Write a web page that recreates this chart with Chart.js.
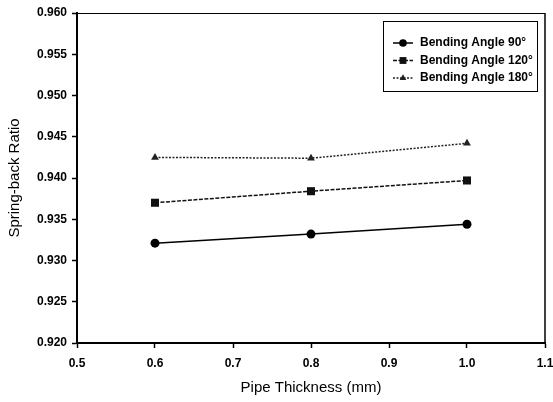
<!DOCTYPE html>
<html>
<head>
<meta charset="utf-8">
<script src="https://cdn.jsdelivr.net/npm/chart.js@4/dist/chart.umd.min.js"></script>
<style>
  html, body { margin: 0; padding: 0; background: #fff; }
  #wrap { width: 553px; height: 402px; }
</style>
</head>
<body>
<div id="wrap"><canvas id="chart" width="553" height="402"></canvas></div>
<script>
// pipe thickness (mm) and spring-back ratio per bending angle
var thickness = [0.6, 0.8, 1.0]
  , angle90   = [0.9321, 0.9332, 0.9344]
  , angle120  = [0.9370, 0.9384, 0.9397]
  , angle180  = [0.9425, 0.9424, 0.9442]
  , labels    = ["Bending Angle 90°", "Bending Angle 120°", "Bending Angle 180°"]

var FONT = "'Liberation Sans', Arial, sans-serif"

function points(ys) {
  return thickness.map(function(x, i) { return {x: x, y: ys[i]} })
}

var series =
  [ { label: labels[0], data: points(angle90),  color: "#000", dash: [],         style: "circle",   radius: 4.5 }
  , { label: labels[1], data: points(angle120), color: "#111", dash: [4, 1.5],   style: "rect",     radius: 5.7 }
  , { label: labels[2], data: points(angle180), color: "#222", dash: [2, 1.5],   style: "triangle", radius: 4.5 }
  ]

function marker(ctx, style, x, y, r, color) {
  ctx.save()
  ctx.fillStyle = color
  ctx.beginPath()
  if (style === "circle") {
    ctx.arc(x, y, r, 0, Math.PI * 2)
  } else if (style === "rect") {
    var s = r * Math.SQRT1_2
    ctx.rect(x - s, y - s, s * 2, s * 2)
  } else {
    ctx.moveTo(x, y - r)
    ctx.lineTo(x + r * 0.87, y + r * 0.5)
    ctx.lineTo(x - r * 0.87, y + r * 0.5)
    ctx.closePath()
  }
  ctx.fill()
  ctx.restore()
}

// frame on the top and right sides plus the boxed legend
var framePlugin = {
  id: "frame",
  afterDraw: function(chart) {
    var ctx  = chart.ctx
      , area = chart.chartArea
    ctx.save()
    ctx.strokeStyle = "#000"
    ctx.lineWidth = 1
    ctx.beginPath()
    ctx.moveTo(area.left, area.top + 0.5)
    ctx.lineTo(area.right, area.top + 0.5)
    ctx.stroke()
    ctx.lineWidth = 1.5
    ctx.beginPath()
    ctx.moveTo(area.right, area.top)
    ctx.lineTo(area.right, area.bottom)
    ctx.stroke()

    // legend box
    var bx = 383, by = 21, bw = 154, bh = 70
    ctx.lineWidth = 1
    ctx.strokeRect(bx + 0.5, by + 0.5, bw, bh)
    ctx.font = "bold 12px " + FONT
    ctx.textBaseline = "middle"
    ctx.fillStyle = "#000"
    series.forEach(function(s, i) {
      var y = 43 + i * 17.5
      ctx.strokeStyle = s.color
      ctx.lineWidth = 1.5
      ctx.setLineDash(s.dash)
      ctx.beginPath()
      ctx.moveTo(393, y)
      ctx.lineTo(413, y)
      ctx.stroke()
      ctx.setLineDash([])
      marker(ctx, s.style, 403, y, s.radius * 0.85, s.color)
      ctx.fillStyle = "#000"
      ctx.fillText(s.label, 420, y)
    })
    ctx.restore()
  }
}

new Chart(document.getElementById("chart"), {
  type: "scatter",
  data: {
    datasets: series.map(function(s) {
      return { label: s.label
             , data: s.data
             , showLine: true
             , borderColor: s.color
             , backgroundColor: s.color
             , borderWidth: 1.5
             , borderDash: s.dash
             , pointStyle: s.style
             , pointRadius: s.radius
             , pointBorderWidth: 0
             , pointBackgroundColor: s.color
             }
    })
  },
  options: {
    responsive: false,
    animation: false,
    layout: { padding: { left: 0, top: 13, right: 8, bottom: 0 } },
    plugins: { legend: { display: false }, tooltip: { enabled: false } },
    scales: {
      x: {
        type: "linear",
        min: 0.5,
        max: 1.1,
        afterFit: function(scale) {
          scale.height = 59
          scale.paddingLeft = 0
          scale.paddingRight = 0
        },
        border: { display: true, color: "#000", width: 2 },
        grid: { drawOnChartArea: false, drawTicks: true, tickLength: 5, tickColor: "#000", tickWidth: 1.5 },
        ticks: {
          stepSize: 0.1,
          padding: 8,
          color: "#000",
          font: { family: FONT, size: 12, weight: "bold" },
          callback: function(v) { return v.toFixed(1) }
        },
        title: {
          display: true,
          text: "Pipe Thickness (mm)",
          color: "#000",
          font: { family: FONT, size: 15 },
          padding: { top: 0, bottom: 5 }
        }
      },
      y: {
        type: "linear",
        min: 0.92,
        max: 0.96,
        afterFit: function(scale) {
          scale.width = 77
          scale.paddingTop = 0
          scale.paddingBottom = 0
        },
        border: { display: true, color: "#000", width: 2 },
        grid: { drawOnChartArea: false, drawTicks: true, tickLength: 5, tickColor: "#000", tickWidth: 1.5 },
        ticks: {
          stepSize: 0.005,
          padding: 5,
          color: "#000",
          font: { family: FONT, size: 12, weight: "bold" },
          callback: function(v) { return v.toFixed(3) }
        },
        title: {
          display: true,
          text: "Spring-back Ratio",
          color: "#000",
          font: { family: FONT, size: 15 },
          padding: { top: 6, bottom: 0 }
        }
      }
    }
  },
  plugins: [framePlugin]
})
</script>
</body>
</html>
